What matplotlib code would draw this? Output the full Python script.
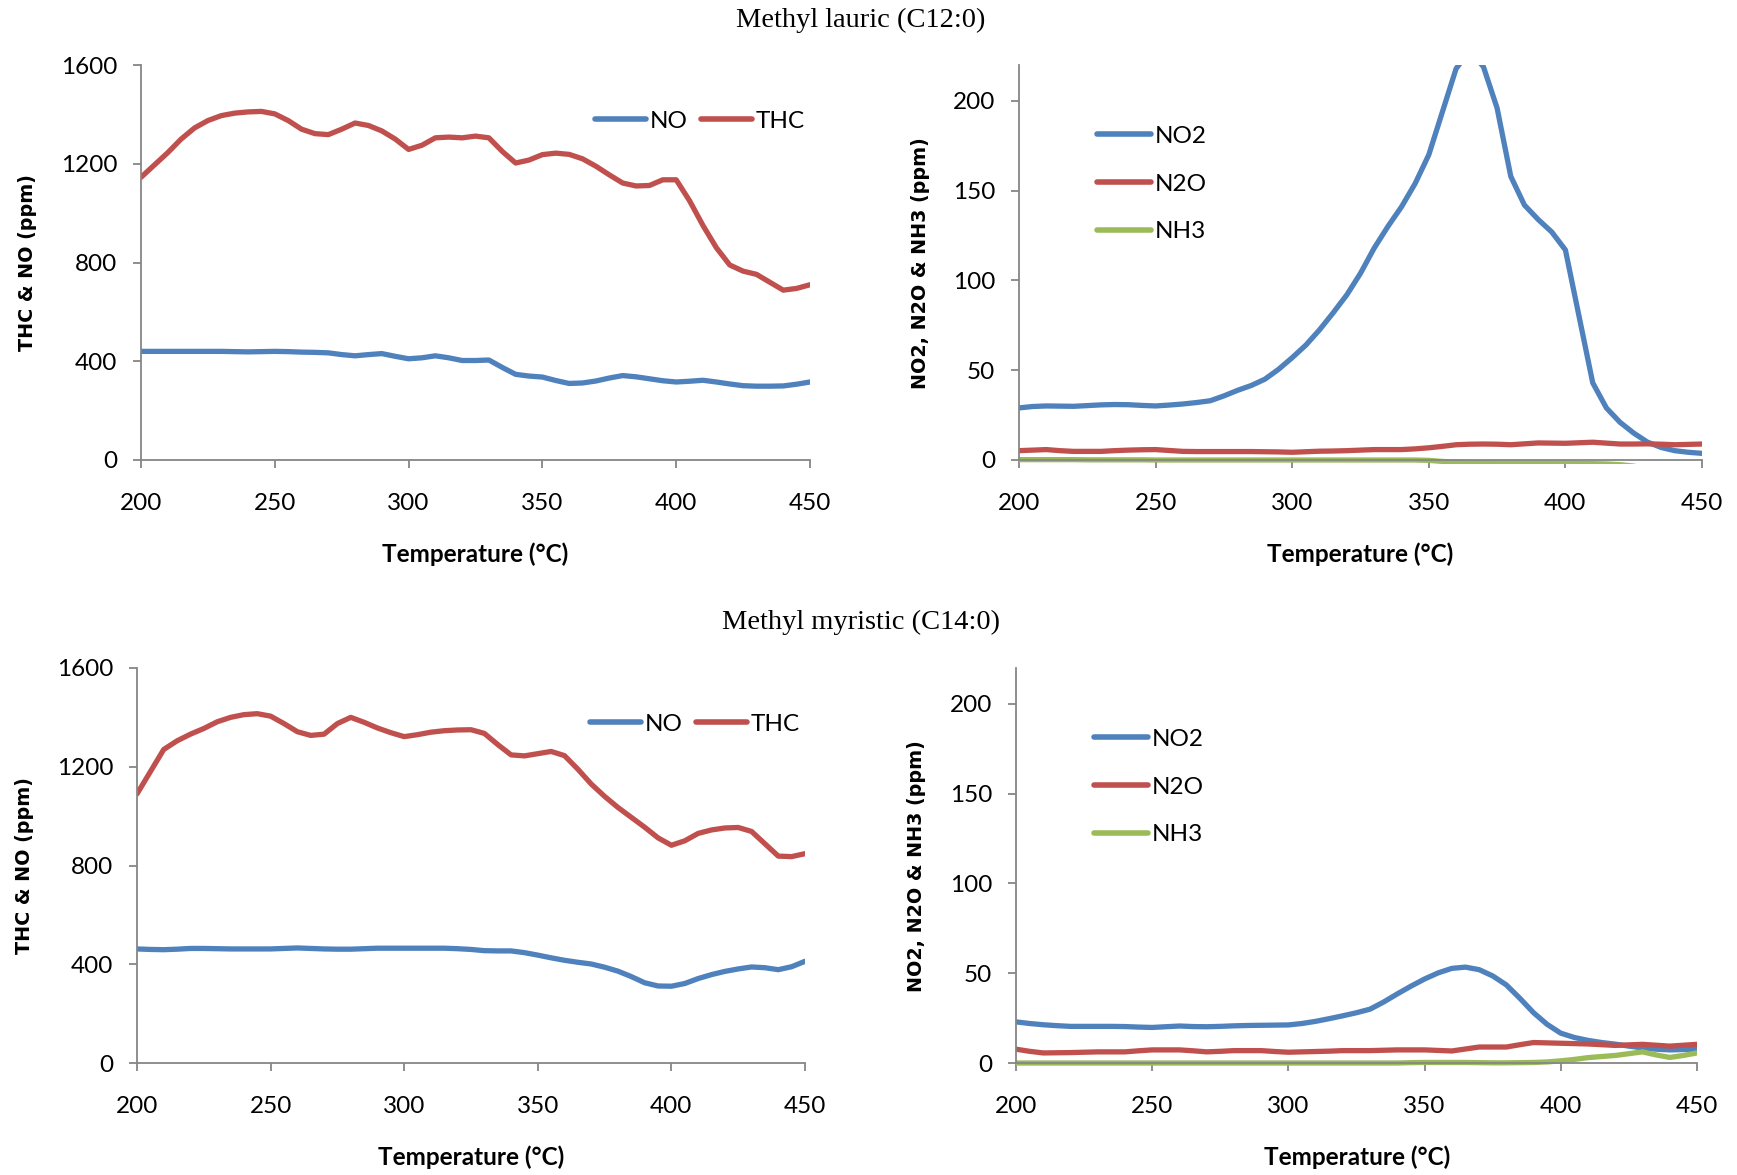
import numpy as np
import matplotlib
matplotlib.use("Agg")
import matplotlib.pyplot as plt
from matplotlib.patches import Rectangle

# --- data (5 degC steps) ---
temp = list(range(200, 455, 5))

# Methyl lauric (C12:0)
c12_thc = [1145, 1195, 1245, 1300, 1345, 1375, 1395, 1405, 1410, 1412,
           1402, 1375, 1340, 1322, 1318, 1340, 1365, 1355, 1333, 1300,
           1258, 1275, 1305, 1308, 1305, 1312, 1305, 1250, 1203, 1215,
           1237, 1243, 1238, 1220, 1190, 1155, 1122, 1110, 1112, 1135,
           1135, 1050, 950, 860, 790, 765, 752, 720, 688, 695, 710]
c12_no = [440, 440, 440, 440, 440, 440, 440, 439, 438, 439,
          440, 439, 437, 436, 434, 427, 422, 427, 431, 420,
          410, 414, 422, 414, 403, 403, 405, 375, 347, 340,
          336, 322, 310, 312, 320, 332, 342, 337, 329, 321,
          316, 319, 323, 316, 308, 301, 299, 299, 300, 307, 316]
c12_no2 = [29, 29.8, 30.1, 30, 29.9, 30.3, 30.7, 30.9, 30.8, 30.4,
           30.1, 30.6, 31.2, 32, 33, 35.7, 38.8, 41.5, 45, 50.5,
           57, 64, 72.5, 82, 92, 104, 118, 130, 141, 154,
           170, 194, 218, 228, 219, 196, 158, 142, 134, 127,
           117, 80, 43, 29, 21, 15, 10, 7, 5.2, 4.3, 3.7]
c12_n2o = [5.2, 5.5, 5.8, 5.2, 4.8, 4.8, 4.8, 5.2, 5.5, 5.7,
           5.8, 5.3, 4.8, 4.7, 4.7, 4.7, 4.7, 4.7, 4.6, 4.5,
           4.3, 4.6, 4.9, 5.0, 5.2, 5.5, 5.8, 5.8, 5.8, 6.2,
           6.8, 7.6, 8.5, 8.8, 8.9, 8.8, 8.5, 9.0, 9.5, 9.4,
           9.3, 9.6, 9.9, 9.4, 8.9, 8.9, 9.0, 8.8, 8.5, 8.7, 8.9]
c12_nh3 = [0.2, 0.2, 0.2, 0.2, 0.2, 0.1, 0.1, 0.1, 0.1, 0.1,
           0.0, 0.0, 0.0, 0.0, 0.0, 0.0, 0.0, 0.0, 0.0, 0.0,
           0.0, 0.0, 0.0, 0.0, 0.0, 0.0, 0.0, 0.0, 0.0, 0.0,
           -0.2, -0.8, -1.2, -1.4, -1.5, -1.6, -1.6, -1.7, -1.7, -1.8,
           -1.8, -1.9, -2.0, -2.2, -2.6, -3.4, -5, -6, -6, -6, -6]

# Methyl myristic (C14:0)
c14_thc = [1090, 1180, 1270, 1305, 1332, 1355, 1382, 1400, 1411, 1415,
           1405, 1375, 1342, 1327, 1332, 1375, 1400, 1380, 1357, 1338,
           1322, 1330, 1340, 1346, 1349, 1350, 1335, 1290, 1248, 1244,
           1253, 1262, 1245, 1190, 1130, 1080, 1035, 995, 955, 912,
           882, 900, 930, 944, 952, 954, 938, 888, 838, 836, 848]
c14_no = [462, 460, 459, 461, 464, 464, 463, 462, 462, 462,
          462, 464, 466, 464, 462, 461, 461, 463, 465, 465,
          465, 465, 465, 465, 463, 460, 455, 454, 454, 447,
          437, 426, 416, 408, 401, 388, 372, 350, 325, 312,
          311, 322, 342, 358, 371, 381, 389, 386, 378, 390, 412]
c14_no2 = [22.9, 22, 21.3, 20.8, 20.4, 20.4, 20.4, 20.4, 20.3, 20,
           19.8, 20.2, 20.6, 20.3, 20.2, 20.4, 20.7, 20.9, 21, 21.1,
           21.2, 22, 23.2, 24.7, 26.3, 28, 30, 34, 38.5, 42.8,
           46.8, 50.2, 52.7, 53.4, 52, 48.5, 43.5, 36, 28, 21.5,
           16.6, 14.2, 12.6, 11.4, 10.5, 9.4, 8.4, 7.7, 7.3, 7.5, 7.7]
c14_n2o = [7.7, 6.5, 5.6, 5.7, 5.8, 6.0, 6.2, 6.2, 6.2, 6.8,
           7.3, 7.3, 7.3, 6.8, 6.2, 6.5, 6.9, 6.9, 6.9, 6.4,
           6.0, 6.2, 6.4, 6.6, 6.9, 6.9, 6.9, 7.1, 7.3, 7.3,
           7.3, 7.0, 6.7, 7.8, 8.9, 8.9, 8.9, 10.2, 11.4, 11.2,
           11.0, 10.8, 10.6, 10.2, 9.8, 10.1, 10.4, 9.9, 9.4, 9.9, 10.4]
c14_nh3 = [0, 0, 0, 0, 0, 0, 0, 0, 0, 0,
           0, 0, 0, 0, 0, 0, 0, 0, 0, 0,
           0, 0, 0, 0, 0, 0, 0, 0, 0, 0.2,
           0.3, 0.3, 0.3, 0.3, 0.2, 0.1, 0.1, 0.2, 0.3, 0.6,
           1.2, 2.0, 3.0, 3.6, 4.2, 5.2, 6.2, 4.5, 3.1, 4.2, 5.6]

ticks_x = [200, 250, 300, 350, 400, 450]
ticks_thc = [0, 400, 800, 1200, 1600]
ticks_n = [0, 50, 100, 150, 200]

BLUE = '#4F81BD'
RED = '#C0504D'
GREEN = '#9BBB59'
GRAY = '#868686'
TICK_FONT = ['Lato', 'DejaVu Sans']
FS = 17.5
LW = 3.8

W, H = 1737, 1175
fig = plt.figure(figsize=(W / 100, H / 100), dpi=100)


def px_axes(l, t, r, b):
    return fig.add_axes([l / W, 1 - b / H, (r - l) / W, (b - t) / H])


def style(ax, ymax, yticks):
    ax.set_xlim(200, 450)
    ax.set_ylim(0, ymax)
    ax.set_xticks(ticks_x)
    ax.set_yticks(yticks)
    for s in ['top', 'right']:
        ax.spines[s].set_visible(False)
    for s in ['left', 'bottom']:
        ax.spines[s].set_color(GRAY)
        ax.spines[s].set_linewidth(1.3)
        ax.spines[s].set_zorder(5)
    ax.tick_params(axis='both', direction='out', length=6, width=1.3,
                   color=GRAY, labelsize=FS)
    ax.tick_params(axis='x', pad=18)
    ax.tick_params(axis='y', pad=11)
    for lab in ax.get_xticklabels() + ax.get_yticklabels():
        lab.set_family(TICK_FONT)


def curve(ax, y, color, label):
    ln, = ax.plot(temp, y, color=color, lw=LW, label=label,
                  solid_capstyle='round', solid_joinstyle='round')
    # let a line sitting on the zero axis show its full width
    clip = Rectangle((0, -0.01), 1, 1.01, transform=ax.transAxes)
    ln.set_clip_path(clip)
    return ln


def panel_thc(ax, thc, no):
    curve(ax, no, BLUE, 'NO')
    curve(ax, thc, RED, 'THC')
    style(ax, 1600, ticks_thc)
    leg = ax.legend(loc='upper left', bbox_to_anchor=(0.66, 0.915), ncol=2,
                    frameon=False, handlelength=2.1, handletextpad=0.15,
                    columnspacing=0.55, borderpad=0,
                    prop={'family': TICK_FONT, 'size': FS})
    for h in leg.get_lines():
        h.set_linewidth(4)


def panel_n(ax, no2, n2o, nh3):
    curve(ax, no2, BLUE, 'NO2')
    curve(ax, n2o, RED, 'N2O')
    curve(ax, nh3, GREEN, 'NH3')
    style(ax, 220, ticks_n)
    leg = ax.legend(loc='upper left', bbox_to_anchor=(0.097, 0.877),
                    frameon=False, handlelength=2.2, handletextpad=0.15,
                    labelspacing=1.1, borderpad=0,
                    prop={'family': TICK_FONT, 'size': FS})
    for h in leg.get_lines():
        h.set_linewidth(4)


ax1 = px_axes(141, 65, 810, 460)
ax2 = px_axes(1019, 65, 1702, 460)
ax3 = px_axes(137, 668, 805, 1063)
ax4 = px_axes(1016, 668, 1697, 1063)

panel_thc(ax1, c12_thc, c12_no)
panel_n(ax2, c12_no2, c12_n2o, c12_nh3)
panel_thc(ax3, c14_thc, c14_no)
panel_n(ax4, c14_no2, c14_n2o, c14_nh3)

title_kw = dict(ha='center', va='center', fontsize=20.5,
                family=['Liberation Serif', 'DejaVu Serif'])
fig.text(861 / W, 1 - 20 / H, 'Methyl lauric (C12:0)', **title_kw)
fig.text(861 / W, 1 - 622 / H, 'Methyl myristic (C14:0)', **title_kw)

xl_kw = dict(ha='center', va='center', fontsize=17.5, fontweight='bold',
             family=TICK_FONT)
fig.text(475 / W, 1 - 554 / H, 'Temperature (°C)', **xl_kw)
fig.text(1360 / W, 1 - 554 / H, 'Temperature (°C)', **xl_kw)
fig.text(471 / W, 1 - 1157 / H, 'Temperature (°C)', **xl_kw)
fig.text(1357 / W, 1 - 1157 / H, 'Temperature (°C)', **xl_kw)

yl_kw = dict(ha='center', va='center', fontsize=13.8, fontweight='bold',
             rotation=90, family='DejaVu Sans')
fig.text(28 / W, 1 - 263 / H, 'THC & NO (ppm)', **yl_kw)
fig.text(920 / W, 1 - 263 / H, 'NO2, N2O & NH3 (ppm)', **yl_kw)
fig.text(25 / W, 1 - 866 / H, 'THC & NO (ppm)', **yl_kw)
fig.text(917 / W, 1 - 866 / H, 'NO2, N2O & NH3 (ppm)', **yl_kw)

fig.savefig('out.png', dpi=100, facecolor='white')
